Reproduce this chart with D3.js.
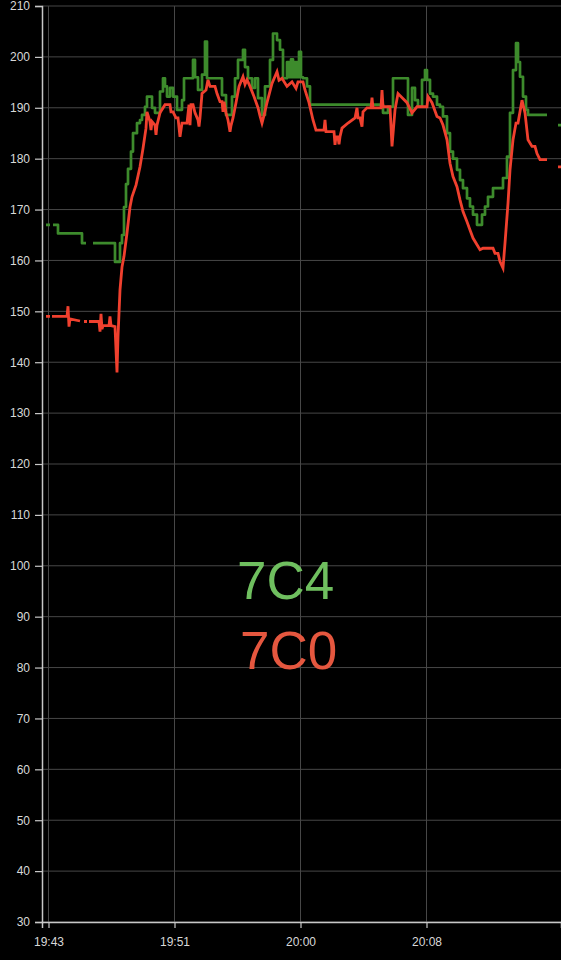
<!DOCTYPE html>
<html>
<head>
<meta charset="utf-8">
<script src="https://cdn.jsdelivr.net/npm/d3@7"></script>
<style>
  html, body { margin: 0; padding: 0; background: #000; overflow: hidden; }
  svg { display: block; }
</style>
</head>
<body>
<svg id="chart" width="561" height="960"></svg>
<script>
// [seconds after 19:43:00, value], null value = gap in the data
const greenPoints = [
  [20, 167], [36, 167], [40, null], [48, 167], [68, 165.3], [164, 163.4], [180, 163.4], [184, null],
  [208, 163.4], [296, 159.7], [316, 163.4], [324, 165], [332, 170.5], [340, 175], [348, 178], [360, 181.4],
  [368, 185], [384, 187], [396, 187.6], [404, 188.6], [416, 190.2], [424, 192.2], [444, 190], [456, 189],
  [476, 193.2], [488, 195.8], [496, 194.2], [504, 192.2], [516, 193.9], [528, 192.2], [544, 189.6], [564, 191.5],
  [572, 195.8], [608, 199.4], [616, 196], [628, 193.5], [644, 196.5], [656, 203], [664, 195.8], [724, 192.5],
  [740, 188.6], [764, 192.2], [776, 195.8], [788, 199.4], [808, 201.4], [816, 198], [828, 195.8], [844, 193.9],
  [856, 195.8], [868, 191.9], [884, 188.6], [896, 194.2], [916, 199.4], [928, 204.6], [944, 203.3], [956, 201.4],
  [968, 195.8], [984, 199], [992, 196], [1000, 199.5], [1008, 196], [1016, 199], [1024, 196], [1032, 201],
  [1040, 196], [1048, 195.8], [1064, 194.2], [1076, 190.6], [1368, 189], [1388, 190.2], [1408, 195.8], [1468, 188.6],
  [1484, 193.9], [1496, 191.5], [1508, 190.2], [1524, 195.5], [1536, 197.4], [1544, 195.5], [1556, 192.8], [1568, 192.2],
  [1584, 190.6], [1596, 190.2], [1608, 188.3], [1624, 185], [1636, 181.4], [1648, 180], [1664, 177.8], [1676, 175.8],
  [1688, 174.2], [1704, 172.2], [1716, 170.6], [1728, 169], [1744, 167], [1764, 169], [1776, 170.6], [1788, 172.5],
  [1808, 174.2], [1848, 176.2], [1864, 180.4], [1876, 189], [1888, 197.4], [1900, 202.7], [1908, 199], [1916, 196.1],
  [1928, 192.2], [1940, 189.6], [1948, 188.6], [2024, 188.6], [2028, null], [2068, 186.6], [2084, 186.6]
];

const redPoints = [
  [20, 149], [36, 149], [40, null], [44, 149], [104, 149], [108, 151], [112, 147], [116, 148.5],
  [156, 148.1], [160, null], [172, 148], [184, 148], [188, null], [192, 148], [232, 148], [236, 146],
  [240, 149.5], [244, 146.5], [248, 147.2], [272, 147.2], [276, 149], [280, 147.2], [296, 147], [304, 138],
  [308, 145], [316, 154.2], [324, 158.7], [332, 160.8], [344, 165.4], [356, 170.5], [364, 172.5], [380, 174.8],
  [396, 178.4], [408, 182], [420, 186], [424, 189.2], [436, 187.3], [440, 185.6], [444, 187.3], [456, 186.6],
  [460, 184.7], [464, 186.6], [476, 189], [496, 190.6], [516, 190.6], [520, 189.2], [528, 189.2], [540, 188],
  [548, 188], [556, 184.3], [564, 187], [584, 187], [592, 190.6], [596, 186.6], [600, 190.6], [608, 190.6],
  [616, 189], [628, 187.6], [632, 186.3], [636, 188], [644, 192.8], [660, 193.5], [668, 195.5], [676, 194.2],
  [696, 194.2], [704, 192.8], [716, 191.2], [724, 191.2], [728, 189.2], [732, 191.2], [740, 189], [748, 187.6],
  [756, 185.3], [760, 186.5], [768, 188], [780, 191], [792, 194.2], [808, 196.1], [816, 194.6], [824, 195.5],
  [836, 194.2], [852, 192.2], [868, 190], [876, 188.4], [884, 187], [892, 188.5], [904, 191], [924, 194.8],
  [944, 197.1], [952, 195.4], [964, 195.8], [984, 194.2], [1004, 195.1], [1020, 193.8], [1028, 195.1], [1048, 195.1],
  [1056, 193.5], [1072, 191], [1088, 187.6], [1100, 185.6], [1132, 185.6], [1136, 187.6], [1140, 185.3], [1172, 185.3],
  [1176, 182.7], [1180, 184.3], [1188, 184.3], [1192, 182.8], [1196, 184.3], [1204, 186], [1228, 187], [1256, 188],
  [1264, 190], [1268, 188], [1276, 188], [1284, 186.3], [1288, 189.2], [1304, 190], [1320, 190], [1324, 192],
  [1328, 190], [1360, 190], [1364, 193.5], [1368, 190.2], [1396, 190.2], [1404, 182.4], [1416, 189.6], [1428, 192.8],
  [1464, 191], [1484, 189], [1504, 190.2], [1544, 190.2], [1548, 192.2], [1564, 191], [1584, 188.3], [1596, 188],
  [1608, 186.6], [1624, 183.7], [1636, 179.1], [1648, 176.5], [1664, 174.5], [1676, 171.9], [1688, 169.6], [1704, 167.6],
  [1716, 166], [1728, 164.4], [1744, 163.1], [1756, 162.1], [1768, 162.4], [1808, 162.4], [1816, 161.4], [1828, 161.4],
  [1836, 159.8], [1848, 158.5], [1856, 163.4], [1868, 171.2], [1876, 177.8], [1888, 183.7], [1900, 187], [1908, 187],
  [1924, 191.5], [1936, 189], [1948, 183.7], [1964, 182.4], [1976, 182.4], [1984, 181], [1996, 179.8], [2024, 179.8],
  [2028, null], [2068, 178.4], [2084, 178.4]
];

const yTicks = [30, 40, 50, 60, 70, 80, 90, 100, 110, 120, 130, 140, 150, 160, 170, 180, 190, 200, 210];
// x tick times, seconds after 19:43:00 (labels 19:43, 19:51, 20:00, 20:08)
const xTickSecs = [30, 534, 1038, 1542];

const seriesNames = ["7C4", "7C0"];

const start = new Date(2024, 0, 1, 19, 43, 0);
const toDate = s => new Date(start.getTime() + s * 1000);

const green = greenPoints.map(([s, v]) => ({ t: toDate(s), v }));
const red = redPoints.map(([s, v]) => ({ t: toDate(s), v }));

const svg = d3.select("#chart");
const width = 561, height = 960;
const margin = { top: 6, right: 0, bottom: 38, left: 42 };

svg.append("rect")
  .attr("width", width)
  .attr("height", height)
  .attr("fill", "#000");

const x = d3.scaleTime()
  .domain([toDate(4), toDate(2080)])
  .range([margin.left, width - margin.right]);

const y = d3.scaleLinear()
  .domain([30, 210])
  .range([height - margin.bottom, margin.top]);

// grid
svg.append("g")
  .selectAll("line")
  .data(yTicks)
  .join("line")
  .attr("x1", margin.left)
  .attr("x2", width)
  .attr("y1", d => y(d))
  .attr("y2", d => y(d))
  .attr("stroke", "#474747")
  .attr("stroke-width", 1);

svg.append("g")
  .selectAll("line")
  .data(xTickSecs)
  .join("line")
  .attr("x1", d => x(toDate(d)))
  .attr("x2", d => x(toDate(d)))
  .attr("y1", margin.top)
  .attr("y2", height - margin.bottom)
  .attr("stroke", "#474747")
  .attr("stroke-width", 1);

// axes
const yAxis = d3.axisLeft(y).tickValues(yTicks).tickSize(7).tickPadding(5);
const gy = svg.append("g")
  .attr("transform", `translate(${margin.left},0)`)
  .call(yAxis);

const xAxis = d3.axisBottom(x)
  .tickValues(xTickSecs.map(toDate))
  .tickFormat(d3.timeFormat("%H:%M"))
  .tickSize(6).tickPadding(9);
const gx = svg.append("g")
  .attr("transform", `translate(0,${height - margin.bottom})`)
  .call(xAxis);

[gx, gy].forEach(g => {
  g.select(".domain").attr("stroke", "#c8c8c8").attr("stroke-width", 1.5);
  g.selectAll(".tick line").attr("stroke", "#c8c8c8").attr("stroke-width", 1.2);
  g.selectAll(".tick text")
    .attr("fill", "#d8d8d8")
    .style("font-family", "'Liberation Sans', Arial, sans-serif")
    .style("font-size", "12px");
});

// lines
const line = d3.line()
  .defined(d => d.v !== null)
  .x(d => x(d.t))
  .y(d => y(d.v));

svg.append("path")
  .datum(green)
  .attr("fill", "none")
  .attr("stroke", "#3d8b2c")
  .attr("stroke-width", 2.7)
  .attr("stroke-linejoin", "round")
  .attr("d", line.curve(d3.curveStepAfter));

svg.append("path")
  .datum(red)
  .attr("fill", "none")
  .attr("stroke", "#f0402e")
  .attr("stroke-width", 2.8)
  .attr("stroke-linejoin", "miter")
  .attr("d", line.curve(d3.curveLinear));

// legend
const legend = svg.append("g")
  .style("font-family", "'Liberation Sans', Arial, sans-serif")
  .style("font-size", "53px");

legend.append("text")
  .attr("x", 237)
  .attr("y", 599)
  .attr("fill", "#6fbf5f")
  .text(seriesNames[0]);

legend.append("text")
  .attr("x", 240)
  .attr("y", 669)
  .attr("fill", "#e5573f")
  .text(seriesNames[1]);
</script>
</body>
</html>
